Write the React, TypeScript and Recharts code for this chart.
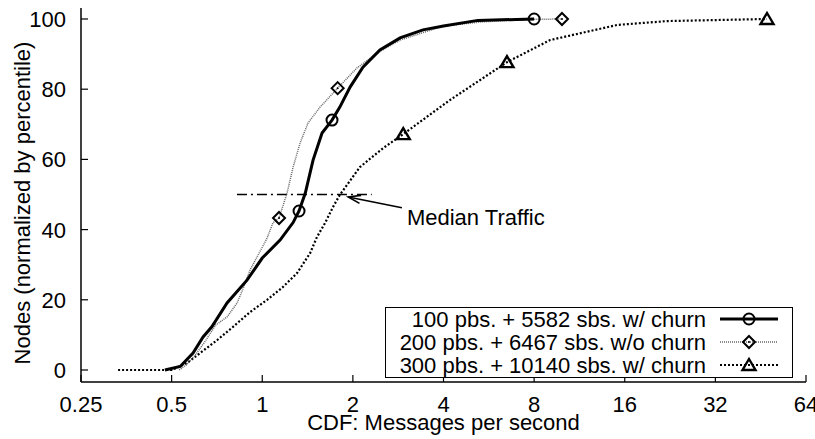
import {
  ComposedChart,
  Line,
  XAxis,
  YAxis,
  Legend,
  ReferenceLine,
} from "recharts";

const FONT = "'Liberation Sans', Arial, Helvetica, sans-serif";

const X_TICKS = [0.25, 0.5, 1, 2, 4, 8, 16, 32, 64];
const Y_TICKS = [0, 20, 40, 60, 80, 100];

// 100 pbs. + 5582 sbs. w/ churn
const A_X = [0.475, 0.534, 0.589, 0.636, 0.68, 0.764, 0.89, 1.0, 1.146, 1.266, 1.325, 1.39, 1.475, 1.58, 1.705, 1.81, 1.958, 2.16, 2.46, 2.87, 3.42, 4.0, 5.2, 8];
const A_Y = [0, 1, 4.8, 9.4, 12.3, 19.1, 25.6, 31.9, 37, 42, 45.3, 50.4, 59.8, 67.5, 71.2, 74.9, 80.6, 86.3, 91.2, 94.6, 96.9, 98, 99.6, 100];
const A_MARKS = [1.325, 1.705, 8];

// 200 pbs. + 6467 sbs. w/o churn
const B_X = [0.53, 0.56, 0.6, 0.65, 0.7, 0.764, 0.825, 0.86, 0.911, 0.961, 1.038, 1.085, 1.137, 1.209, 1.266, 1.336, 1.42, 1.556, 1.78, 2.06, 2.41, 2.87, 4.0, 5.4, 8, 9.9];
const B_Y = [0, 1.5, 4.3, 8.5, 12.8, 15.1, 19.1, 22.8, 28.5, 32.2, 37.6, 41.9, 43.3, 50.4, 57.8, 64.7, 70.4, 74.9, 80.3, 86, 90.3, 94, 98, 99.2, 99.9, 100];
const B_MARKS = [1.137, 1.78, 9.9];

// 300 pbs. + 10140 sbs. w/ churn
const C_X = [0.332, 0.5, 0.563, 0.621, 0.708, 0.8, 0.911, 1.038, 1.17, 1.305, 1.442, 1.52, 1.617, 1.717, 1.81, 2.11, 2.52, 2.94, 4.2, 6.5, 9.04, 15.1, 22.1, 47.5];
const C_Y = [0, 0, 2, 4.8, 8.5, 12.3, 16.5, 20, 23.6, 27.6, 33.3, 37.9, 41.9, 46.4, 49.9, 57.8, 63.2, 67.2, 76.9, 87.7, 94, 98.3, 99.4, 100];
const C_MARKS = [2.94, 6.5, 47.5];

const LABELS = [
  "100 pbs. + 5582 sbs. w/ churn",
  "200 pbs. + 6467 sbs. w/o churn",
  "300 pbs. + 10140 sbs. w/ churn",
];

const toData = (xs: number[], ys: number[]) => xs.map((x, i) => ({ x, y: ys[i] }));

const dataA = toData(A_X, A_Y);
const dataB = toData(B_X, B_Y);
const dataC = toData(C_X, C_Y);

type Kind = "circle" | "diamond" | "triangle";

const Marker = ({ kind, cx, cy }: { kind: Kind; cx: number; cy: number }) => {
  if (kind === "circle")
    return <circle cx={cx} cy={cy} r={5.5} fill="none" stroke="#000" strokeWidth={2} />;
  if (kind === "diamond")
    return (
      <g>
        <polygon
          points={`${cx},${cy - 6} ${cx + 6},${cy} ${cx},${cy + 6} ${cx - 6},${cy}`}
          fill="none"
          stroke="#000"
          strokeWidth={2}
        />
        <circle cx={cx} cy={cy} r={1} fill="#000" />
      </g>
    );
  return (
    <polygon
      points={`${cx},${cy - 6} ${cx + 6.5},${cy + 5} ${cx - 6.5},${cy + 5}`}
      fill="none"
      stroke="#000"
      strokeWidth={2.4}
    />
  );
};

const makeDot = (marks: number[], kind: Kind) => (props: any) => {
  const { cx, cy, payload, index } = props;
  if (!marks.includes(payload.x)) return <g key={`d-${index}`} />;
  return (
    <g key={`d-${index}`}>
      <Marker kind={kind} cx={cx} cy={cy} />
    </g>
  );
};

const BottomTick = ({ x, y, payload }: any) => (
  <g>
    <line x1={x} y1={y} x2={x} y2={y - 7} stroke="#000" strokeWidth={1.2} />
    <text x={x} y={y + 30} textAnchor="middle" fontSize={22} fontFamily={FONT} fill="#000">
      {payload.value}
    </text>
  </g>
);

const TopTick = ({ x, y }: any) => (
  <line x1={x} y1={y} x2={x} y2={y + 7} stroke="#000" strokeWidth={1.2} />
);

const LeftTick = ({ x, y, payload }: any) => (
  <g>
    <line x1={x} y1={y} x2={x + 7} y2={y} stroke="#000" strokeWidth={1.2} />
    <text x={x - 15} y={y} dy="0.36em" textAnchor="end" fontSize={22} fontFamily={FONT} fill="#000">
      {payload.value}
    </text>
  </g>
);

const RightTick = ({ x, y }: any) => (
  <line x1={x} y1={y} x2={x - 7} y2={y} stroke="#000" strokeWidth={1.2} />
);

const Arrow = (p: any) => {
  const { x1, y1, x2, y2 } = p;
  const a = Math.atan2(y2 - y1, x2 - x1);
  const L = 13;
  const w = 0.32;
  const hx1 = x2 - L * Math.cos(a - w);
  const hy1 = y2 - L * Math.sin(a - w);
  const hx2 = x2 - L * Math.cos(a + w);
  const hy2 = y2 - L * Math.sin(a + w);
  return (
    <g>
      <line x1={x1} y1={y1} x2={x2} y2={y2} stroke="#000" strokeWidth={1.6} />
      <polyline points={`${hx1},${hy1} ${x2},${y2} ${hx2},${hy2}`} fill="none" stroke="#000" strokeWidth={1.6} />
      <text x={x1 + 5} y={y1 + 17} fontSize={22} fontFamily={FONT} fill="#000">
        Median Traffic
      </text>
    </g>
  );
};

const SAMPLES = [
  { stroke: "#000", width: 3, dash: undefined as string | undefined, kind: "circle" as Kind },
  { stroke: "#666", width: 1.5, dash: "1 1", kind: "diamond" as Kind },
  { stroke: "#000", width: 2.2, dash: "2 2", kind: "triangle" as Kind },
];

const LegendBox = () => (
  <div style={{ width: 408, height: 71, border: "1.3px solid #000", background: "#fff", boxSizing: "border-box" }}>
    <svg width={406} height={69} style={{ display: "block" }}>
      {LABELS.map((label, i) => {
        const cy = 11 + i * 23;
        const s = SAMPLES[i];
        return (
          <g key={label}>
            <text x={320} y={cy + 8} textAnchor="end" fontSize={22} fontFamily={FONT} fill="#000">
              {label}
            </text>
            <line x1={334} y1={cy} x2={392} y2={cy} stroke={s.stroke} strokeWidth={s.width} strokeDasharray={s.dash} />
            <Marker kind={s.kind} cx={363} cy={cy} />
          </g>
        );
      })}
    </svg>
  </div>
);

export default function App() {
  return (
    <div style={{ position: "absolute", left: 0, top: 0, background: "#fff" }}>
      <ComposedChart width={815} height={439} margin={{ top: 8, right: 9, bottom: 0, left: 0 }}>
        <XAxis
          xAxisId="b"
          dataKey="x"
          type="number"
          scale="log"
          domain={[0.25, 64]}
          ticks={X_TICKS}
          interval={0}
          allowDataOverflow
          orientation="bottom"
          height={57}
          tickSize={0}
          tickMargin={0}
          tickLine={false}
          tick={<BottomTick />}
          axisLine={{ stroke: "#000", strokeWidth: 1.5 }}
          label={{
            value: "CDF: Messages per second",
            position: "insideBottom",
            offset: 9,
            fontSize: 22,
            fontFamily: FONT,
            fill: "#000",
          }}
        />
        <XAxis
          xAxisId="t"
          dataKey="x"
          type="number"
          scale="log"
          domain={[0.25, 64]}
          ticks={X_TICKS}
          interval={0}
          allowDataOverflow
          orientation="top"
          height={0}
          tickSize={0}
          tickMargin={0}
          tickLine={false}
          tick={<TopTick />}
          axisLine={{ stroke: "#000", strokeWidth: 1.5 }}
        />
        <YAxis
          yAxisId="l"
          type="number"
          domain={[-3.42, 103.13]}
          ticks={Y_TICKS}
          interval={0}
          allowDataOverflow
          width={81}
          tickSize={0}
          tickMargin={0}
          tickLine={false}
          tick={<LeftTick />}
          axisLine={{ stroke: "#000", strokeWidth: 1.5 }}
          label={(props: any) => (
            <text
              x={22}
              y={203}
              transform="rotate(-90 22 203)"
              textAnchor="middle"
              dominantBaseline="central"
              fontSize={22}
              fontFamily={FONT}
              fill="#000"
            >
              Nodes (normalized by percentile)
            </text>
          )}
        />
        <YAxis
          yAxisId="r"
          orientation="right"
          type="number"
          domain={[-3.42, 103.13]}
          ticks={Y_TICKS}
          interval={0}
          allowDataOverflow
          width={0}
          tickSize={0}
          tickMargin={0}
          tickLine={false}
          tick={<RightTick />}
          axisLine={{ stroke: "#000", strokeWidth: 1.5 }}
        />
        <Legend
          layout="horizontal"
          verticalAlign="middle"
          align="center"
          wrapperStyle={{ left: 385, top: 307, width: 408, height: 71 }}
          content={() => <LegendBox />}
        />
        <ReferenceLine
          xAxisId="b"
          yAxisId="l"
          segment={[{ x: 0.824, y: 50 }, { x: 2.31, y: 50 }]}
          stroke="#000"
          strokeWidth={1.3}
          strokeDasharray="10 4 2 4"
          ifOverflow="visible"
        />
        <ReferenceLine
          xAxisId="b"
          yAxisId="l"
          segment={[{ x: 2.91, y: 46.2 }, { x: 1.93, y: 49.3 }]}
          ifOverflow="visible"
          shape={(p: any) => <Arrow {...p} />}
        />
        <Line
          xAxisId="b"
          yAxisId="l"
          data={dataC}
          dataKey="y"
          type="linear"
          stroke="#000"
          strokeWidth={2.2}
          strokeDasharray="2 2"
          dot={makeDot(C_MARKS, "triangle")}
          activeDot={false}
          isAnimationActive={false}
        />
        <Line
          xAxisId="b"
          yAxisId="l"
          data={dataB}
          dataKey="y"
          type="linear"
          stroke="#666"
          strokeWidth={1.5}
          strokeDasharray="1 1"
          dot={makeDot(B_MARKS, "diamond")}
          activeDot={false}
          isAnimationActive={false}
        />
        <Line
          xAxisId="b"
          yAxisId="l"
          data={dataA}
          dataKey="y"
          type="linear"
          stroke="#000"
          strokeWidth={3}
          dot={makeDot(A_MARKS, "circle")}
          activeDot={false}
          isAnimationActive={false}
        />
      </ComposedChart>
    </div>
  );
}
